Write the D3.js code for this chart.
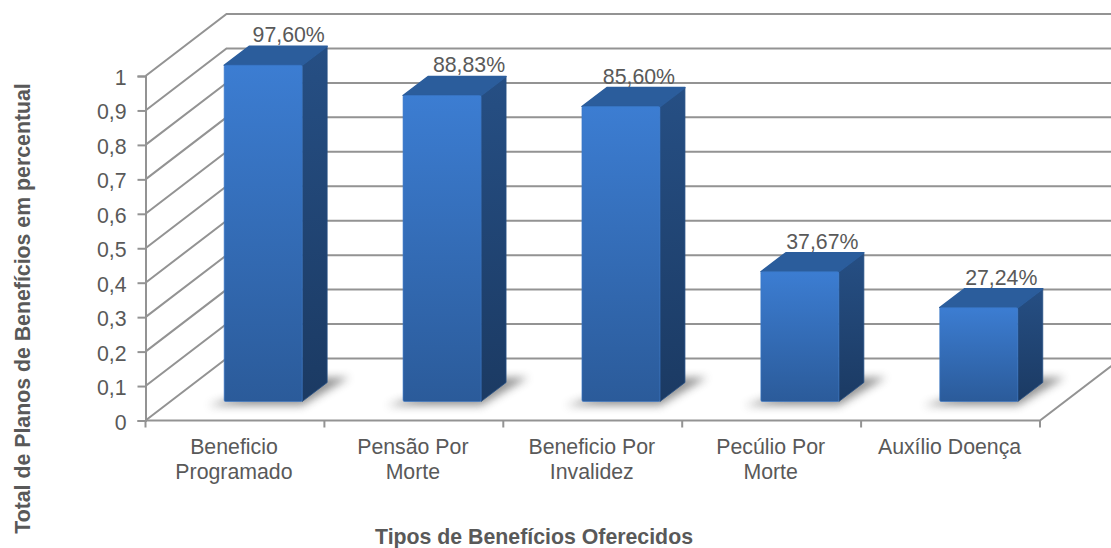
<!DOCTYPE html>
<html lang="pt">
<head>
<meta charset="UTF-8">
<title>Tipos de Benefícios Oferecidos</title>
<script src="https://d3js.org/d3.v7.min.js"></script>
<style>
    html, body { margin: 0; background: #fff; }
    svg { display: block; }
    text { font-family: 'Liberation Sans', Arial, sans-serif; fill: #595959; }
    .grid { stroke: #939393; stroke-width: 2; fill: none; }
    .title { font-weight: bold; font-size: 21.3px; }
    .tick-label { font-size: 21.3px; }
    .data-label { font-size: 21.3px; }
</style>
</head>
<body>
<div id="chart"></div>
<script>
const categories = [["Beneficio", "Programado"], ["Pensão Por", "Morte"], ["Beneficio Por", "Invalidez"], ["Pecúlio Por", "Morte"], ["Auxílio Doença"]];
const values = [0.976, 0.8883, 0.856, 0.3767, 0.2724];
const valueLabels = ["97,60%", "88,83%", "85,60%", "37,67%", "27,24%"];
const yTicks = [0, 0.1, 0.2, 0.3, 0.4, 0.5, 0.6, 0.7, 0.8, 0.9, 1];
const labelNudge = [1.5, 3, -6, -1.5, -1.5];

const width = 1111, height = 548;
// 3D offsets: floor depth of the chart box and of the bars
const depth = { x: 81, y: 62 };
const barFront = { x: 28.2, y: 19 };
const barDepth = { x: 25, y: 19 };

const svg = d3.select("#chart").append("svg").attr("width", width).attr("height", height);

const x = d3.scaleBand().domain(d3.range(categories.length)).range([145.5, 1040]).paddingInner(0.564).paddingOuter(0.282);
const y = d3.scaleLinear().domain([0, 1]).range([420.5, 76]);

const defs = svg.append("defs");
function gradient(id, top, bottom) {
    const g = defs.append("linearGradient").attr("id", id).attr("x1", 0).attr("y1", 0).attr("x2", 0).attr("y2", 1);
    g.append("stop").attr("offset", "0%").attr("stop-color", top);
    g.append("stop").attr("offset", "100%").attr("stop-color", bottom);
}
gradient("front", "#3c7dd2", "#2b5b9a");
gradient("side", "#264f84", "#1b3a63");
defs.append("filter").attr("id", "blur").attr("x", "-30%").attr("y", "-60%").attr("width", "160%").attr("height", "220%")
    .append("feGaussianBlur").attr("stdDeviation", 4);
defs.append("clipPath").attr("id", "page").append("rect").attr("width", width).attr("height", height);

// walls and floor
const grid = svg.append("g").attr("clip-path", "url(#page)");
yTicks.forEach(t => {
    grid.append("path").attr("class", "grid")
        .attr("d", `M${x.range()[0]},${y(t)}l${depth.x},${-depth.y}L${width + 20},${y(t) - depth.y}`);
});
grid.append("path").attr("class", "grid")
    .attr("d", `M${x.range()[0]},${y(0)}L${x.range()[1]},${y(0)}l${depth.x},${-depth.y}`);

// y axis
const yAxis = d3.axisLeft(y).tickValues(yTicks).tickSize(8).tickPadding(11)
    .tickFormat(d => String(d).replace(".", ","));
const yG = svg.append("g").attr("transform", "translate(145.5,0)").call(yAxis);
yG.selectAll("line").attr("stroke", "#939393").attr("stroke-width", 2);
yG.select(".domain").attr("stroke", "#939393").attr("stroke-width", 2);
yG.selectAll("text").attr("class", "tick-label").attr("fill", null).attr("dy", "0.4em");

// x axis ticks and labels
const step = x.step();
const xEdges = d3.range(categories.length + 1).map(i => x.range()[0] + i * step);
svg.selectAll(".x-tick").data(xEdges).join("line").attr("class", "x-tick")
    .attr("x1", d => d).attr("x2", d => d).attr("y1", y(0)).attr("y2", y(0) + 7)
    .attr("stroke", "#939393").attr("stroke-width", 2);

const catLabels = svg.selectAll(".cat").data(categories).join("text").attr("class", "cat tick-label")
    .attr("text-anchor", "middle")
    .attr("transform", (d, i) => `translate(${xEdges[i] + step / 2 - 1},454)`);
catLabels.selectAll("tspan").data(d => d).join("tspan")
    .attr("x", 0).attr("y", (d, i) => i * 24.5).text(d => d);

// bars
const bars = svg.selectAll(".bar").data(values).join("g").attr("class", "bar")
    .attr("transform", (d, i) => `translate(${x(i) + barFront.x},${-barFront.y})`);
const w = x.bandwidth();

bars.append("path")
    .attr("d", `M-16,${y(0) + 4}L${w},${y(0) + 4}L${w + barDepth.x + 22},${y(0) - barDepth.y - 5}L${w},${y(0) - barDepth.y - 5}Z`)
    .attr("fill", "#5c5c5c").attr("opacity", 0.65).attr("filter", "url(#blur)");
bars.append("path")
    .attr("d", d => `M${w},${y(d)}l${barDepth.x},${-barDepth.y}V${y(0) - barDepth.y}l${-barDepth.x},${barDepth.y}Z`)
    .attr("fill", "url(#side)").attr("stroke", "#264f84").attr("stroke-width", 0.8).attr("stroke-linejoin", "round");
bars.append("path")
    .attr("d", d => `M0,${y(d)}l${barDepth.x},${-barDepth.y}h${w}l${-barDepth.x},${barDepth.y}Z`)
    .attr("fill", "#2b5d9c").attr("stroke", "#2b5d9c").attr("stroke-width", 1.5).attr("stroke-linejoin", "round");
bars.append("rect")
    .attr("y", d => y(d)).attr("width", w).attr("height", d => y(0) - y(d))
    .attr("rx", 1.5).attr("fill", "url(#front)").attr("stroke", "#3a78c8").attr("stroke-opacity", 0.6);

// data labels
svg.selectAll(".data-label").data(values).join("text").attr("class", "data-label")
    .attr("text-anchor", "middle")
    .attr("x", (d, i) => x(i) + barFront.x + w / 2 + 24 + labelNudge[i])
    .attr("y", d => y(d) - barFront.y - barDepth.y - 4)
    .text((d, i) => valueLabels[i]);

// axis titles
svg.append("text").attr("class", "title").attr("text-anchor", "middle")
    .attr("x", 534).attr("y", 544).text("Tipos de Benefícios Oferecidos");
svg.append("text").attr("class", "title").attr("text-anchor", "middle")
    .attr("transform", "translate(30,308.5) rotate(-90)").text("Total de Planos de Benefícios em percentual");
</script>
</body>
</html>
